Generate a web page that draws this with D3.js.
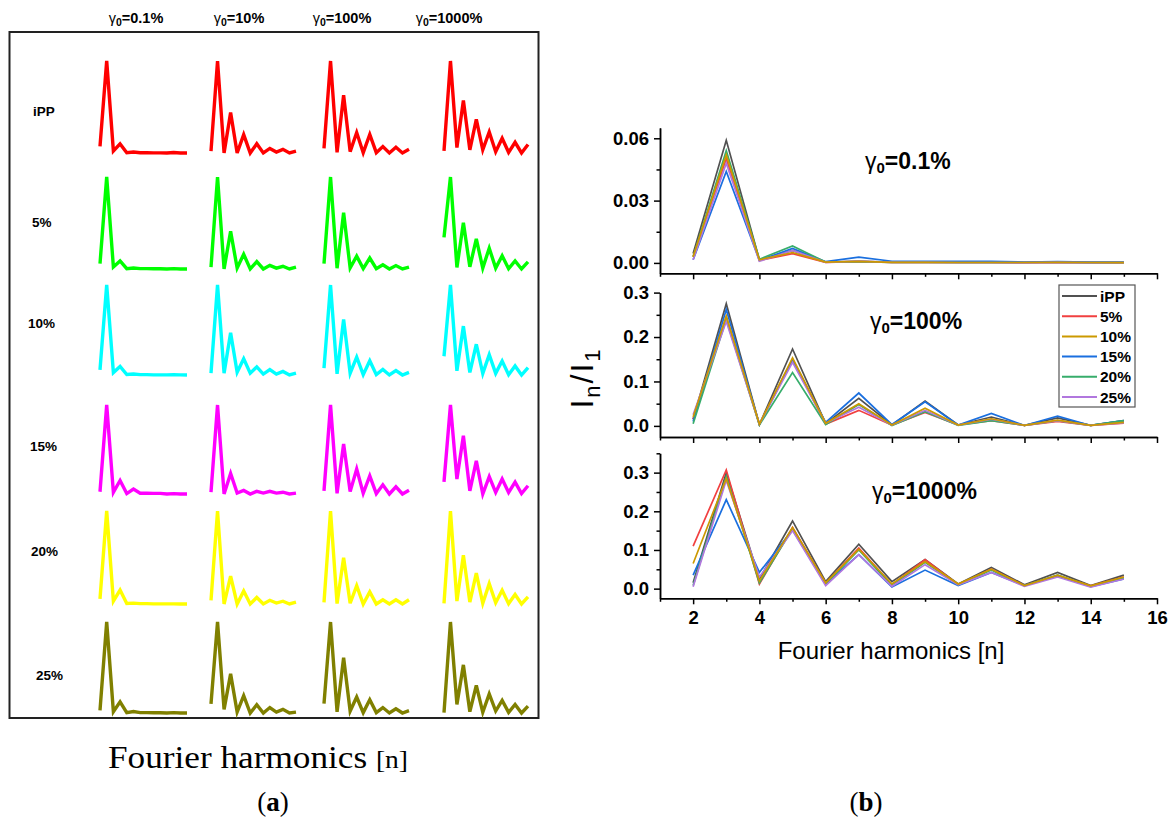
<!DOCTYPE html>
<html><head><meta charset="utf-8">
<script src="https://cdn.jsdelivr.net/npm/d3@7"></script>
<style>body{margin:0;background:#fff} svg{display:block}</style>
</head><body>
<svg id="c" width="1175" height="820"></svg>
<script>
// ---------- DATA ----------
const harmonics = [2,3,4,5,6,7,8,9,10,11,12,13,14,15];
const seriesNames = ["iPP","5%","10%","15%","20%","25%"];
const gammaLabels = ["0.1%","10%","100%","1000%"];
const colorsB = ["#515151","#F14040","#CC9900","#1A6FDF","#37AD6B","#B177DE"];
const colorsA = ["#FF0000","#00FF00","#00FFFF","#FF00FF","#FFFF00","#808000"];

// In/I1, gamma0 = 0.1 %
const g01 = [
  [0.0045,0.059,0.0015,0.006,0.0004,0.0008,0.0004,0.0004,0.0003,0.0003,0.0002,0.0005,0.0002,0.0002],
  [0.003,0.050,0.0012,0.0045,0.0003,0.0006,0.0003,0.0003,0.0002,0.0002,0.0001,0.0003,0.0001,0.0001],
  [0.003,0.052,0.0015,0.005,0.0004,0.0007,0.0003,0.0003,0.0002,0.0002,0.0002,0.0003,0.0002,0.0001],
  [0.0015,0.044,0.0012,0.007,0.0006,0.0028,0.0008,0.0008,0.0007,0.0007,0.0004,0.0006,0.0004,0.0004],
  [0.003,0.054,0.0018,0.0082,0.0004,0.0006,0.0003,0.0003,0.0002,0.0002,0.0002,0.0002,0.0001,0.0001],
  [0.0015,0.048,0.0008,0.006,0.0003,0.0009,0.0003,0.0003,0.0002,0.0002,0.0001,0.0003,0.0001,0.0001]
];
// relative In/I1 (panel a only), gamma0 = 10 %
const g10rel = [
  [0.02,1,0,0.44,0,0.2,0,0.1,0,0.05,0.01,0.04,0,0.02],
  [0.02,1,0,0.41,0.01,0.16,0,0.08,0,0.04,0.01,0.03,0,0.02],
  [0.02,1,0.02,0.47,0.03,0.18,0.02,0.09,0.01,0.06,0.01,0.04,0,0.02],
  [0.02,1,0,0.23,0.01,0.04,0,0.03,0.01,0.03,0.01,0.02,0,0.01],
  [0.04,1,0,0.3,0,0.14,0,0.07,0,0.04,0.01,0.03,0,0.02],
  [0.1,1,0.04,0.43,0.01,0.19,0,0.09,0,0.06,0.01,0.04,0,0.01]
];
// In/I1, gamma0 = 100 %
const g100 = [
  [0.015,0.275,0.003,0.173,0.005,0.062,0.002,0.056,0.002,0.02,0.001,0.018,0.001,0.012],
  [0.015,0.245,0.003,0.15,0.004,0.035,0.002,0.03,0.002,0.012,0.001,0.01,0.001,0.006],
  [0.02,0.247,0.004,0.153,0.006,0.05,0.002,0.04,0.002,0.016,0.001,0.013,0.001,0.008],
  [0.01,0.262,0.003,0.148,0.008,0.074,0.003,0.054,0.002,0.028,0.001,0.022,0.001,0.012],
  [0.005,0.24,0.002,0.12,0.003,0.048,0.001,0.032,0.001,0.012,0.001,0.012,0.001,0.012],
  [0.025,0.235,0.004,0.143,0.006,0.042,0.002,0.035,0.002,0.015,0.001,0.012,0.001,0.007]
];
// In/I1, gamma0 = 1000 %
const g1000 = [
  [0.015,0.30,0.025,0.175,0.018,0.115,0.018,0.075,0.012,0.055,0.01,0.042,0.008,0.035],
  [0.11,0.307,0.012,0.158,0.014,0.105,0.01,0.075,0.01,0.05,0.008,0.033,0.007,0.03],
  [0.065,0.285,0.02,0.158,0.015,0.102,0.012,0.07,0.012,0.05,0.008,0.035,0.007,0.03],
  [0.035,0.23,0.042,0.152,0.012,0.088,0.004,0.048,0.008,0.042,0.008,0.034,0.005,0.025],
  [0.008,0.29,0.015,0.155,0.012,0.1,0.008,0.068,0.01,0.048,0.007,0.035,0.006,0.028],
  [0.005,0.28,0.03,0.15,0.008,0.088,0.006,0.062,0.01,0.042,0.006,0.03,0.004,0.025]
];
const yTicks01 = [0,0.03,0.06];
const yTicksBig = [0,0.1,0.2,0.3];
const xTickLabels = [2,4,6,8,10,12,14,16];

// ---------- DRAW ----------
const svg = d3.select("#c");
const SANS = "'Liberation Sans', Arial, sans-serif";
const SERIF = "'Liberation Serif', 'Times New Roman', serif";

// ===== Panel (a) =====
svg.append("rect").attr("x",9.5).attr("y",32).attr("width",529).attr("height",686)
  .attr("fill","none").attr("stroke","#222").attr("stroke-width",2);

const colX = [[100,187],[211,296],[324,409],[444,528]];
const rowY = [[61,153],[177,269],[285,375],[405,494],[511,604],[622,713]];
const headerX = [136,239,342,449];
const rowLabelX = [33,32,28,30,31,36];
const rowLabelY = [111,222,323,446,551,675];
const colData = [g01, g10rel, g100, g1000];

gammaLabels.forEach((g,c)=>{
  const t = svg.append("text").attr("x",headerX[c]).attr("y",23)
    .attr("text-anchor","middle").attr("font-family",SANS).attr("font-weight","bold").attr("font-size",14.5);
  t.append("tspan").attr("font-weight","normal").text("γ");
  t.append("tspan").attr("font-size",10.5).attr("dy",3).text("0");
  t.append("tspan").attr("dy",-3).text("="+g);
});
seriesNames.forEach((s,r)=>{
  svg.append("text").attr("x",rowLabelX[r]).attr("y",rowLabelY[r]+5)
    .attr("font-family",SANS).attr("font-weight","bold").attr("font-size",13.5).text(s);
});
colData.forEach((cd,c)=>{
  const xs = d3.scaleLinear().domain([2,15]).range(colX[c]);
  cd.forEach((vals,r)=>{
    const ys = d3.scaleLinear().domain(d3.extent(vals)).range([rowY[r][1], rowY[r][0]]);
    const ln = d3.line().x((d,i)=>xs(harmonics[i])).y(d=>ys(d));
    svg.append("path").attr("d",ln(vals)).attr("fill","none")
      .attr("stroke",colorsA[r]).attr("stroke-width",3.4).attr("stroke-linejoin","miter");
  });
});
{
  const t = svg.append("text").attr("x",258).attr("y",768).attr("text-anchor","middle")
    .attr("font-family",SERIF).attr("font-size",32).attr("textLength",300).attr("lengthAdjust","spacingAndGlyphs");
  t.append("tspan").text("Fourier harmonics ");
  t.append("tspan").attr("font-size",25).text("[n]");
}
function panelLabel(x, letter){
  const t = svg.append("text").attr("x",x).attr("y",811).attr("text-anchor","middle")
    .attr("font-family",SERIF).attr("font-size",27);
  t.append("tspan").text("(");
  t.append("tspan").attr("font-weight","bold").text(letter);
  t.append("tspan").text(")");
}
panelLabel(273,"a");
panelLabel(866,"b");

// ===== Panel (b) =====
const xB = d3.scaleLinear().domain([1,16]).range([660,1157]);
const subs = [
  {data:g01, domain:[-0.005,0.065], range:[273.3,127.9], ticks:yTicks01, minor:[0.015,0.045], fmt:".2f", label:"0.1%", lx:865, ly:169},
  {data:g100, domain:[-0.025,0.3], range:[437,292.6], ticks:yTicksBig, minor:[0.05,0.15,0.25], fmt:".1f", label:"100%", lx:870, ly:329},
  {data:g1000, domain:[-0.025,0.35], range:[598.3,453.3], ticks:yTicksBig, minor:[0.05,0.15,0.25,0.35], fmt:".1f", label:"1000%", lx:872, ly:499}
];
const drawOrder = [0,1,3,4,5,2];
subs.forEach((s,k)=>{
  const y = d3.scaleLinear().domain(s.domain).range(s.range);
  const yAx = svg.append("g").attr("transform","translate(660,0)")
    .call(d3.axisLeft(y).tickValues(s.ticks).tickFormat(d3.format(s.fmt)).tickSize(6).tickSizeOuter(0).tickPadding(5));
  yAx.append("g").call(d3.axisLeft(y).tickValues(s.minor).tickFormat("").tickSize(3.5).tickSizeOuter(0));
  const baseY = s.range[0];
  const xAx = svg.append("g").attr("transform",`translate(0,${baseY})`)
    .call(d3.axisBottom(xB).tickValues(xTickLabels).tickFormat(k===2?d3.format("d"):"").tickSize(6).tickSizeOuter(0).tickPadding(7));
  xAx.append("g").call(d3.axisBottom(xB).tickValues([1,3,5,7,9,11,13,15]).tickFormat("").tickSize(3.5).tickSizeOuter(0));
  [yAx,xAx].forEach(a=>{
    a.selectAll("path.domain").attr("stroke","#000").attr("stroke-width",1.5);
    a.selectAll("line").attr("stroke","#000").attr("stroke-width",1.5);
    a.selectAll("text").attr("font-family",SANS).attr("font-weight","bold").attr("font-size",18.5).attr("fill","#000");
  });
  const ln = d3.line().x((d,i)=>xB(harmonics[i])).y(d=>y(d));
  drawOrder.forEach(i=>{
    svg.append("path").attr("d",ln(s.data[i])).attr("fill","none")
      .attr("stroke",colorsB[i]).attr("stroke-width",1.7).attr("stroke-linejoin","miter");
  });
  const t = svg.append("text").attr("x",s.lx).attr("y",s.ly)
    .attr("font-family",SANS).attr("font-weight","bold").attr("font-size",23);
  t.append("tspan").attr("font-weight","normal").text("γ");
  t.append("tspan").attr("font-size",15).attr("dy",4).text("0");
  t.append("tspan").attr("dy",-4).text("="+s.label);
});

// y label
{
  const t = svg.append("text").attr("transform","translate(593,378) rotate(-90)")
    .attr("text-anchor","middle").attr("font-family",SANS).attr("font-size",32).attr("letter-spacing",2);
  t.append("tspan").text("I");
  t.append("tspan").attr("font-size",22).attr("dy",7).text("n");
  t.append("tspan").attr("dy",-7).text("/I");
  t.append("tspan").attr("font-size",22).attr("dy",7).text("1");
}
// x title
svg.append("text").attr("x",891).attr("y",659).attr("text-anchor","middle")
  .attr("font-family",SANS).attr("font-size",24).text("Fourier harmonics [n]");

// legend
const lg = svg.append("g");
lg.append("rect").attr("x",1059).attr("y",285).attr("width",76).attr("height",122)
  .attr("fill","#fff").attr("stroke","#555").attr("stroke-width",1.2);
seriesNames.forEach((s,i)=>{
  const yy = 296 + i*20.2;
  lg.append("line").attr("x1",1062).attr("x2",1097).attr("y1",yy).attr("y2",yy)
    .attr("stroke",colorsB[i]).attr("stroke-width",2);
  lg.append("text").attr("x",1100).attr("y",yy+5.5).attr("font-family",SANS)
    .attr("font-weight","bold").attr("font-size",15.5).text(s);
});
</script>
</body></html>
